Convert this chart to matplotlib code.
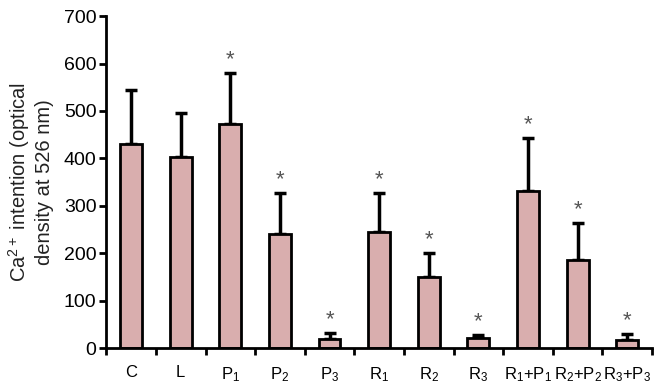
import numpy as np
import matplotlib
matplotlib.use('Agg')
import matplotlib.pyplot as plt

plt.rcParams['font.family'] = 'Liberation Sans'
plt.rcParams['mathtext.fontset'] = 'custom'
plt.rcParams['mathtext.rm'] = 'Liberation Sans'
plt.rcParams['mathtext.it'] = 'Liberation Sans:italic'

labels = ['C', 'L', 'P$_1$', 'P$_2$', 'P$_3$', 'R$_1$', 'R$_2$', 'R$_3$',
          'R$_1$+P$_1$', 'R$_2$+P$_2$', 'R$_3$+P$_3$']
means = [430, 403, 472, 240, 20, 245, 150, 22, 332, 185, 18]
errors = [115, 92, 108, 88, 12, 83, 50, 5, 111, 78, 12]
signif = [False, False, True, True, True, True, True, True, True, True, True]

fig = plt.figure(figsize=(6.6, 3.83), dpi=100)
ax = fig.add_axes([0.161, 0.091, 0.827, 0.867])

x = np.arange(len(labels))
ax.bar(x, means, width=0.44, color='#d9aeae', edgecolor='black', linewidth=2, zorder=2)
ax.errorbar(x, means, yerr=[np.zeros(len(errors)), errors], fmt='none',
            ecolor='black', elinewidth=2.5, capsize=4, capthick=2.5, zorder=1)

for i in range(len(labels)):
    if signif[i]:
        ax.text(x[i], means[i] + errors[i] + 6, '*', ha='center', va='bottom',
                fontsize=16, color='#555555')

ax.set_xlim(-0.5, 10.5)
ax.set_ylim(0, 700)
ax.set_yticks(range(0, 701, 100))
ax.set_xticks(x)
ax.set_xticklabels(labels, fontsize=12)
ax.set_xticks(np.arange(-0.5, 10.6, 1), minor=True)
ax.tick_params(axis='x', which='major', length=0, pad=12)
ax.tick_params(axis='x', which='minor', length=5, width=2, direction='out')
ax.tick_params(axis='y', length=5, width=2, labelsize=14, pad=2)

for s in ['top', 'right']:
    ax.spines[s].set_visible(False)
for s in ['left', 'bottom']:
    ax.spines[s].set_linewidth(2)

ax.set_ylabel('Ca$^{2+}$ intention (optical\ndensity at 526 nm)', fontsize=14.5, labelpad=7,
              color='#222222')

fig.savefig('out.png', dpi=100)
